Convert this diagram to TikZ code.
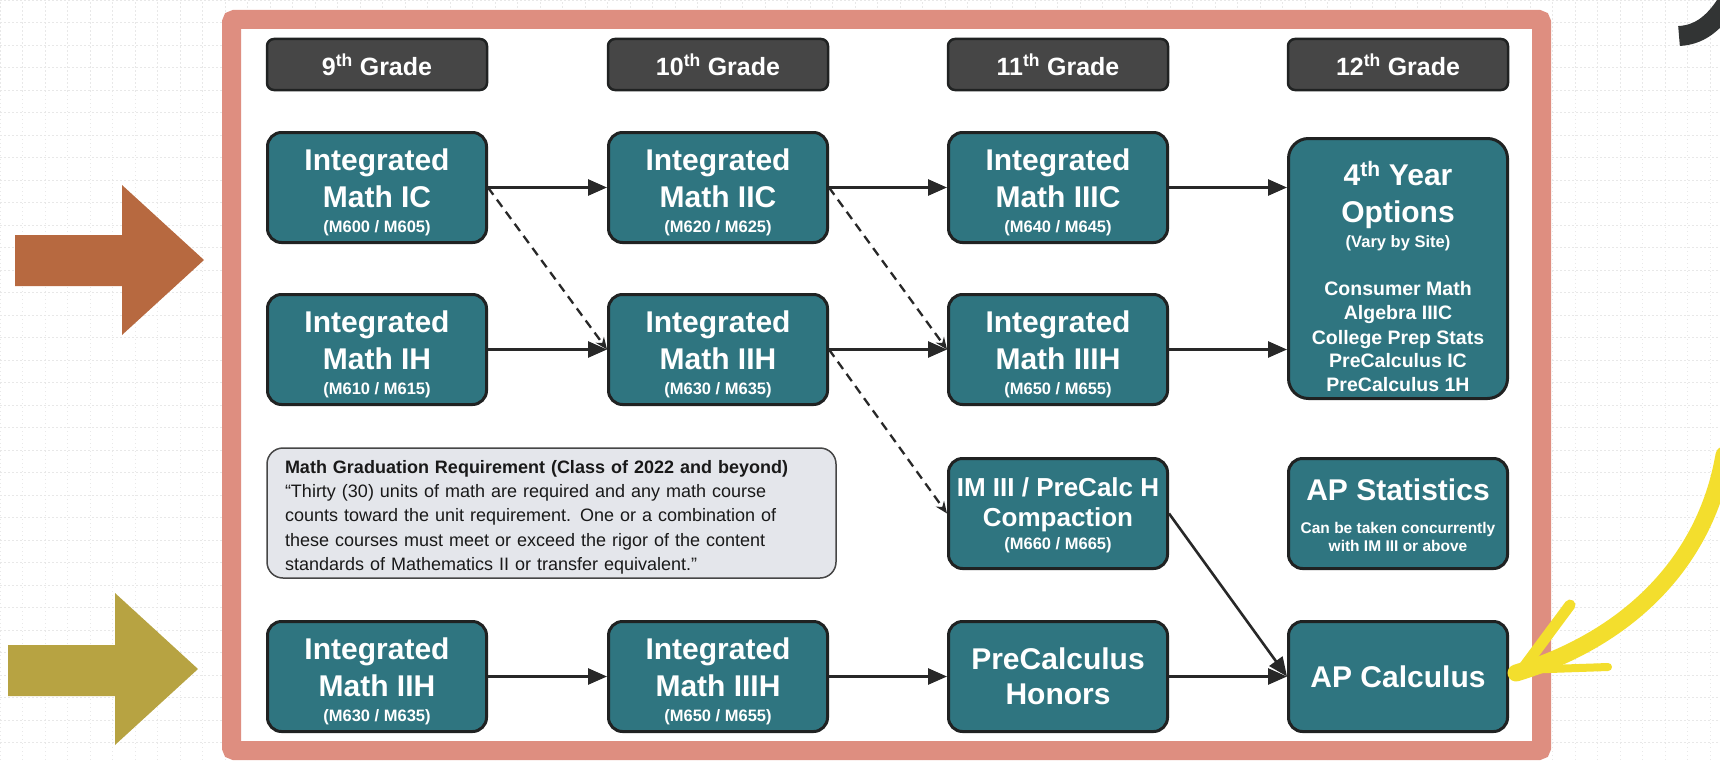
\documentclass[tikz,border=0pt]{standalone}
\usepackage{fontspec}
\setmainfont{Liberation Sans}
\usetikzlibrary{arrows.meta}
\definecolor{coursefill}{RGB}{47,117,128}
\definecolor{courseedge}{RGB}{32,34,34}
\definecolor{headfill}{RGB}{70,70,70}
\definecolor{notefill}{RGB}{228,230,235}
\definecolor{noteedge}{RGB}{70,70,70}
\definecolor{framecol}{RGB}{222,142,128}
\definecolor{arrowcol}{RGB}{40,40,40}
\definecolor{brownarrow}{RGB}{183,105,64}
\definecolor{olivearrow}{RGB}{183,163,66}
\definecolor{hiyellow}{RGB}{243,222,45}
\definecolor{inkcol}{RGB}{50,52,52}
\newcommand{\subf}[1]{{\fontsize{16.5}{20}\selectfont #1}}
\newcommand{\bigf}[1]{{\fontsize{30}{37}\selectfont #1}}
\newcommand{\lift}[1]{\rule{0pt}{#1}}
\begin{document}
\begin{tikzpicture}[x=1pt,y=-1pt,
            course/.style={draw=courseedge,line width=3pt,fill=coursefill,rounded corners=14pt,
              minimum width=219pt,minimum height=110pt,inner sep=0pt,text=white,align=center,
              font=\bfseries\fontsize{30}{37}\selectfont},
            head/.style={draw=courseedge,line width=2.5pt,fill=headfill,rounded corners=7pt,
              minimum width=220pt,minimum height=51pt,inner sep=0pt,text=white,
              font=\bfseries\fontsize{25}{30}\selectfont},
            req/.style={draw=noteedge,line width=1.5pt,fill=notefill,rounded corners=16pt,
              minimum width=569pt,minimum height=130pt,text width=533pt,inner xsep=18pt,
              align=left,text=black!90,font=\fontsize{18}{24.4}\selectfont},
            flow/.style={draw=arrowcol,line width=2.6pt,-{Triangle[length=19pt,width=16pt]}},
            jump/.style={draw=arrowcol,line width=2.3pt,dash pattern=on 9pt off 6pt,
              -{Stealth[length=12pt,width=10pt]}},
            gridline/.style={black!9,line width=0.6pt,dash pattern=on 1.5pt off 2.5pt,step=22.5pt},
            hiliter/.style={draw=hiyellow,line width=17pt,line cap=round}]
            \clip (0,0) rectangle (1720,760);
            \draw[gridline] (0,760) grid (1720,0);
            \draw[framecol,fill=white,line width=19pt,rounded corners=3pt] (231.5,19.5) rectangle (1541.5,750.5);
            \fill[brownarrow] (15,235) -- (122,235) -- (122,185) -- (204,260) -- (122,335) -- (122,286) -- (15,286) -- cycle;
            \fill[olivearrow] (8,645) -- (115,645) -- (115,593) -- (198,669) -- (115,745) -- (115,696) -- (8,696) -- cycle;
            \draw[inkcol,line width=20pt] (1679,36) .. controls (1698,35) and (1713,25) .. (1727,3);
            \node[head] (g9) at (377,64.5) {9\textsuperscript{th} Grade};
            \node[head] (g10) at (718,64.5) {10\textsuperscript{th} Grade};
            \node[head] (g11) at (1058,64.5) {11\textsuperscript{th} Grade};
            \node[head] (g12) at (1398,64.5) {12\textsuperscript{th} Grade};
            \node[course] (ic) at (377,187.5) {\lift{32pt}Integrated\\Math IC\\[-12pt]\subf{(M600 / M605)}};
            \node[course] (iic) at (718,187.5) {\lift{32pt}Integrated\\Math IIC\\[-12pt]\subf{(M620 / M625)}};
            \node[course] (iiic) at (1058,187.5) {\lift{32pt}Integrated\\Math IIIC\\[-12pt]\subf{(M640 / M645)}};
            \node[course] (ih) at (377,349.5) {\lift{32pt}Integrated\\Math IH\\[-12pt]\subf{(M610 / M615)}};
            \node[course] (iih) at (718,349.5) {\lift{32pt}Integrated\\Math IIH\\[-12pt]\subf{(M630 / M635)}};
            \node[course] (iiih) at (1058,349.5) {\lift{32pt}Integrated\\Math IIIH\\[-12pt]\subf{(M650 / M655)}};
            \node[course,rounded corners=20pt,minimum height=260pt,font=\bfseries\fontsize{19.5}{23.5}\selectfont] (opt) at (1398,268.5)
              {\lift{40pt}\bigf{4\textsuperscript{th} Year}\\[13.5pt]\bigf{Options}\\[1.5pt]\subf{(Vary by Site)}\\[24.5pt]
               Consumer Math\\Algebra IIIC\\[1.5pt]College Prep Stats\\PreCalculus IC\\PreCalculus 1H};
            \node[req] (req) at (551.5,513) {\lift{21.5pt}\textbf{Math Graduation Requirement (Class of 2022 and beyond)}\\
              “Thirty (30) units of math are required and any math course\\
              counts toward the unit requirement. One or a combination of\\
              these courses must meet or exceed the rigor of the content\\
              standards of Mathematics II or transfer equivalent.”};
            \node[course,font=\bfseries\fontsize{26}{30}\selectfont] (cmp) at (1058,513.5)
              {\lift{23pt}IM III / PreCalc H\\Compaction\\[-7pt]\subf{(M660 / M665)}};
            \node[course,font=\bfseries\fontsize{15.5}{18}\selectfont] (aps) at (1398,513.5)
              {\lift{25pt}\bigf{AP Statistics}\\[15pt]Can be taken concurrently\\with IM III or above};
            \node[course] (iihb) at (377,676.5) {\lift{32pt}Integrated\\Math IIH\\[-12pt]\subf{(M630 / M635)}};
            \node[course] (iiihb) at (718,676.5) {\lift{32pt}Integrated\\Math IIIH\\[-12pt]\subf{(M650 / M655)}};
            \node[course,font=\bfseries\fontsize{30}{35}\selectfont] (pch) at (1058,676.5) {PreCalculus\\Honors};
            \node[course] (apc) at (1398,676.5) {AP Calculus};
            \draw[flow] (ic) -- (iic);
            \draw[flow] (iic) -- (iiic);
            \draw[flow] (iiic.east) -- (iiic.east -| opt.west);
            \draw[flow] (ih) -- (iih);
            \draw[flow] (iih) -- (iiih);
            \draw[flow] (iiih.east) -- (iiih.east -| opt.west);
            \draw[jump] (ic.east) -- (iih.west);
            \draw[jump] (iic.east) -- (iiih.west);
            \draw[jump] (iih.east) -- (cmp.west);
            \draw[flow] (cmp.east) -- (apc.west);
            \draw[flow] (iihb) -- (iiihb);
            \draw[flow] (iiihb) -- (pch);
            \draw[flow] (pch) -- (apc);
            \draw[hiliter] (1724,455) .. controls (1705,565) and (1625,640) .. (1516,673);
            \draw[hiliter,line width=11pt] (1524,667) -- (1570,605);
            \draw[hiliter,line width=8pt] (1520,670) -- (1608,667);
\end{tikzpicture}
\end{document}
